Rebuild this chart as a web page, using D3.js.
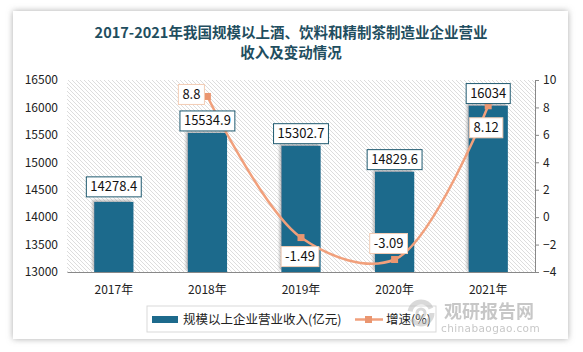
<!DOCTYPE html>
<html>
<head>
<meta charset="utf-8">
<script src="https://cdn.jsdelivr.net/npm/d3@7"></script>
<style>
  body { margin: 0; background: #fff; }
  svg { display: block; }
  .axis text { font-family: "Noto Sans CJK SC", "Noto Sans", sans-serif; font-size: 12px; fill: #222; }
</style>
</head>
<body>
<div id="chart"></div>
<script>
// data
const years = ["2017年", "2018年", "2019年", "2020年", "2021年"];
const revenue = [14278.4, 15534.9, 15302.7, 14829.6, 16034];
const growth = [null, 8.8, -1.49, -3.09, 8.12];
const leftTicks = [13000, 13500, 14000, 14500, 15000, 15500, 16000, 16500];
const rightTicks = [-4, -2, 0, 2, 4, 6, 8, 10];
const revenueLabels = ["14278.4", "15534.9", "15302.7", "14829.6", "16034"];
const growthLabels = [null, "8.8", "-1.49", "-3.09", "8.12"];

const W = 583, H = 352;
const margin = { top: 80, right: 48, bottom: 80, left: 67 };
const barColor = "#1d6a8c";
const lineColor = "#f1a07c";
const font = '"Noto Sans CJK SC", "Noto Sans", sans-serif';

const svg = d3.select("#chart").append("svg")
  .attr("width", W).attr("height", H);

const defs = svg.append("defs");

// card shadow
const sh = defs.append("filter").attr("id", "cardShadow")
  .attr("x", "-5%").attr("y", "-5%").attr("width", "110%").attr("height", "110%");
sh.append("feDropShadow").attr("dx", 0).attr("dy", 0).attr("stdDeviation", 3)
  .attr("flood-color", "#888").attr("flood-opacity", 0.7);

// bar shadow (up and left)
const bs = defs.append("filter").attr("id", "barShadow")
  .attr("x", "-20%").attr("y", "-20%").attr("width", "140%").attr("height", "140%");
bs.append("feDropShadow").attr("dx", -2).attr("dy", -2).attr("stdDeviation", 1.2)
  .attr("flood-color", "#999").attr("flood-opacity", 0.6);

// hatch
const pat = defs.append("pattern").attr("id", "hatch")
  .attr("patternUnits", "userSpaceOnUse").attr("width", 4).attr("height", 4);
pat.append("path").attr("d", "M-1,-1 L5,5 M-1,3 L1,5 M3,-1 L5,1")
  .attr("stroke", "#cfcfcf").attr("stroke-width", 0.7);

// card
svg.append("rect")
  .attr("x", 13).attr("y", 11).attr("width", 555).attr("height", 328)
  .attr("fill", "#fff").attr("filter", "url(#cardShadow)");

// title
const title = svg.append("text")
  .attr("text-anchor", "middle")
  .attr("font-family", font).attr("font-weight", "bold")
  .attr("font-size", 14.5).attr("fill", "#1f4e60");
title.append("tspan").attr("x", 291).attr("y", 38)
  .text("2017-2021年我国规模以上酒、饮料和精制茶制造业企业营业");
title.append("tspan").attr("x", 291).attr("y", 58).text("收入及变动情况");

// scales
const x = d3.scaleBand().domain(years)
  .range([margin.left, W - margin.right])
  .paddingInner(0.58).paddingOuter(0.29);
const yL = d3.scaleLinear().domain([13000, 16500]).range([H - margin.bottom, margin.top]);
const yR = d3.scaleLinear().domain([-4, 10]).range([H - margin.bottom, margin.top]);

// plot background
svg.append("rect")
  .attr("x", margin.left).attr("y", margin.top)
  .attr("width", W - margin.right - margin.left)
  .attr("height", H - margin.bottom - margin.top)
  .attr("fill", "url(#hatch)");

// axes
const leftAxis = svg.append("g").attr("class", "axis")
  .attr("transform", `translate(${margin.left},0)`)
  .call(d3.axisLeft(yL).tickValues(leftTicks).tickSize(0).tickPadding(9).tickFormat(d3.format("d")));
leftAxis.select(".domain").remove();

const rightAxis = svg.append("g").attr("class", "axis")
  .attr("transform", `translate(${W - margin.right},0)`)
  .call(d3.axisRight(yR).tickValues(rightTicks).tickSize(4).tickSizeOuter(0).tickPadding(4));
rightAxis.selectAll("line, .domain").attr("stroke", "#888");

const bottomAxis = svg.append("g").attr("class", "axis")
  .attr("transform", `translate(0,${H - margin.bottom})`)
  .call(d3.axisBottom(x).tickSize(0).tickSizeOuter(0).tickPadding(13));
bottomAxis.select(".domain").attr("stroke", "#888");

// bars
svg.append("g").selectAll("rect")
  .data(revenue)
  .join("rect")
  .attr("x", (d, i) => x(years[i]))
  .attr("y", d => yL(d))
  .attr("width", x.bandwidth())
  .attr("height", d => yL(13000) - yL(d))
  .attr("fill", barColor)
  .attr("filter", "url(#barShadow)");

// growth line
const pts = growth.map((g, i) => ({ g, i })).filter(d => d.g !== null);
const line = d3.line()
  .x(d => x(years[d.i]) + x.bandwidth() / 2)
  .y(d => yR(d.g))
  .curve(d3.curveCatmullRom.alpha(0.5));
svg.append("path")
  .datum(pts)
  .attr("d", line)
  .attr("fill", "none")
  .attr("stroke", lineColor)
  .attr("stroke-width", 2.5);

svg.append("g").selectAll("rect")
  .data(pts)
  .join("rect")
  .attr("x", d => x(years[d.i]) + x.bandwidth() / 2 - 3.5)
  .attr("y", d => yR(d.g) - 3.5)
  .attr("width", 7).attr("height", 7)
  .attr("fill", "#ea9670");

// label box helper
function labelBox(cx, cy, txt, stroke) {
  const g = svg.append("g");
  const t = g.append("text")
    .attr("x", cx).attr("y", cy + 4.5)
    .attr("text-anchor", "middle")
    .attr("font-family", font).attr("font-size", 13)
    .attr("fill", "#111").text(txt);
  const w = t.node().getComputedTextLength() + 8;
  g.insert("rect", "text")
    .attr("x", cx - w / 2).attr("y", cy - 10)
    .attr("width", w).attr("height", 20)
    .attr("fill", "#fff").attr("stroke", stroke).attr("stroke-width", 1);
}

// bar labels
revenue.forEach((d, i) => {
  const cx = x(years[i]) + x.bandwidth() / 2;
  labelBox(cx, yL(d) - (i === 0 ? 15 : 12), revenueLabels[i], "#1f5a70");
});

// growth labels: offsets relative to point
const growthOffsets = [null, [-16, -2], [-1, 19], [-6, -16], [-2, 22]];
growth.forEach((g, i) => {
  if (g === null) return;
  const cx = x(years[i]) + x.bandwidth() / 2 + growthOffsets[i][0];
  const cy = yR(g) + growthOffsets[i][1];
  labelBox(cx, cy, growthLabels[i], "#f3cdb5");
});

// legend
const lg = svg.append("g");
lg.append("rect").attr("x", 147).attr("y", 306).attr("width", 289).attr("height", 26)
  .attr("fill", "#fff").attr("stroke", "#d9d9d9");
lg.append("rect").attr("x", 152).attr("y", 316).attr("width", 26).attr("height", 7)
  .attr("fill", barColor);
lg.append("text").attr("x", 183).attr("y", 324)
  .attr("font-family", font).attr("font-size", 12.5).attr("fill", "#222")
  .text("规模以上企业营业收入(亿元)");
lg.append("line").attr("x1", 355).attr("x2", 383).attr("y1", 319.5).attr("y2", 319.5)
  .attr("stroke", lineColor).attr("stroke-width", 2.5);
lg.append("rect").attr("x", 365).attr("y", 316).attr("width", 7).attr("height", 7)
  .attr("fill", "#ea9670");
lg.append("text").attr("x", 386).attr("y", 324)
  .attr("font-family", font).attr("font-size", 12.5).attr("fill", "#222")
  .text("增速(%)");

// watermark
const wm = svg.append("g").attr("opacity", 0.55);
wm.append("circle").attr("cx", 421).attr("cy", 313).attr("r", 11)
  .attr("fill", "none").attr("stroke", "#bbb").attr("stroke-width", 5)
  .attr("stroke-dasharray", "28 8");
wm.append("circle").attr("cx", 421).attr("cy", 313).attr("r", 4)
  .attr("fill", "none").attr("stroke", "#bbb").attr("stroke-width", 3);
wm.append("text").attr("x", 444).attr("y", 318)
  .attr("font-family", font).attr("font-weight", "bold").attr("font-size", 18)
  .attr("fill", "#9a9a9a").text("观研报告网");
wm.append("text").attr("x", 441).attr("y", 332)
  .attr("font-family", "DejaVu Sans, sans-serif").attr("font-size", 10.5)
  .attr("fill", "#9a9a9a").attr("letter-spacing", 0.4).text("chinabaogao.com");
</script>
</body>
</html>
